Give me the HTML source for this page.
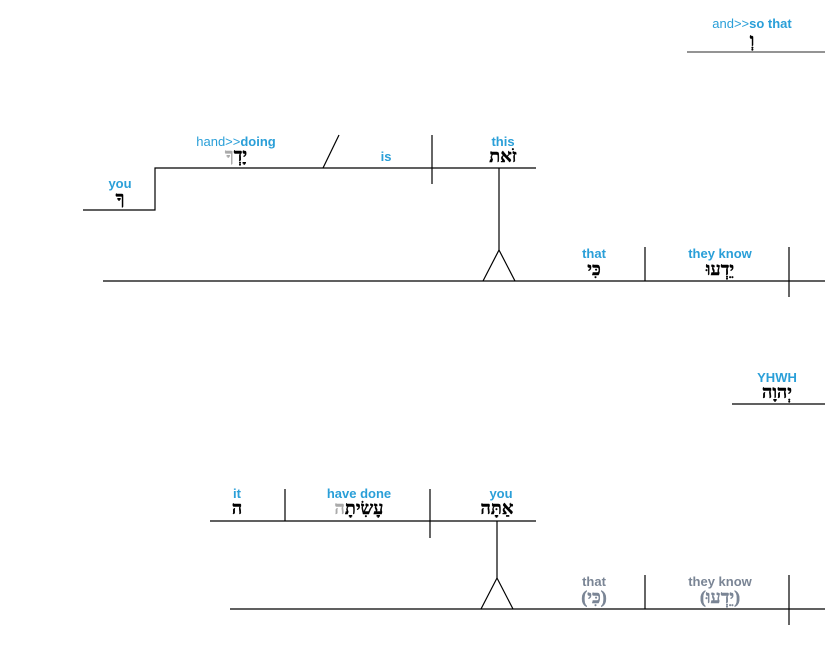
<!DOCTYPE html>
<html><head><meta charset="utf-8"><style>
html,body{margin:0;padding:0;background:#fff;}
svg{display:block;}
.b{fill:#2a9fd8;font-family:"Liberation Sans",sans-serif;font-size:13px;font-weight:bold;}
.bn{font-weight:normal;}
.g{fill:#7a8595;font-family:"Liberation Sans",sans-serif;font-size:13px;font-weight:bold;}
.h{fill:#000;font-family:"Liberation Serif","DejaVu Serif",serif;font-size:18px;font-weight:bold;stroke:#000;stroke-width:0.4;}
.hg{fill:#7a8595;stroke:#7a8595;}
.lg{fill:#aaa;stroke:#aaa;}
line,polyline{stroke:#000;stroke-width:1.2;fill:none;}
</style></head><body>
<svg width="825" height="649" viewBox="0 0 825 649" xmlns="http://www.w3.org/2000/svg">
<g text-anchor="middle">
<text class="b" x="752" y="28"><tspan class="bn">and&gt;&gt;</tspan>so that</text>
<text class="h" x="752" y="46">וְ</text>
<line x1="687" y1="52" x2="825" y2="52" style="stroke:#555"/>

<text class="b" x="236" y="146"><tspan class="bn">hand&gt;&gt;</tspan>doing</text>
<text class="h" x="236" y="161">יָדְ<tspan class="lg">ךָ</tspan></text>
<text class="b" x="120" y="188">you</text>
<text class="h" x="120" y="204">ךָ</text>
<text class="b" x="386" y="161">is</text>
<text class="b" x="503" y="146">this</text>
<text class="h" x="503" y="162">זֹאת</text>
<polyline points="83,210 155,210 155,168 536,168"/>
<line x1="323" y1="168" x2="339" y2="135"/>
<line x1="432" y1="135" x2="432" y2="184"/>
<line x1="499" y1="168" x2="499" y2="250"/>
<polyline points="483,281 499,250 515,281"/>
<line x1="103" y1="281" x2="825" y2="281"/>
<line x1="645" y1="247" x2="645" y2="281"/>
<line x1="789" y1="247" x2="789" y2="297"/>
<text class="b" x="594" y="258">that</text>
<text class="h" x="594" y="275">כִּי</text>
<text class="b" x="720" y="258">they know</text>
<text class="h" x="720" y="275">יֵדְעוּ</text>

<text class="b" x="777" y="382">YHWH</text>
<text class="h" x="777" y="398">יְהוָה</text>
<line x1="732" y1="404" x2="825" y2="404"/>

<text class="b" x="237" y="498">it</text>
<text class="h" x="237" y="514">ה</text>
<text class="b" x="359" y="498">have done</text>
<text class="h" x="359" y="514">עָשִׂיתָ<tspan class="lg">ה</tspan></text>
<text class="b" x="501" y="498">you</text>
<text class="h" x="497" y="514">אַתָּה</text>
<line x1="210" y1="521" x2="536" y2="521"/>
<line x1="285" y1="489" x2="285" y2="521"/>
<line x1="430" y1="489" x2="430" y2="538"/>
<line x1="497" y1="521" x2="497" y2="578"/>
<polyline points="481,609 497,578 513,609"/>
<line x1="230" y1="609" x2="825" y2="609"/>
<line x1="645" y1="575" x2="645" y2="609"/>
<line x1="789" y1="575" x2="789" y2="625"/>
<text class="g" x="594" y="586">that</text>
<text class="h hg" x="594" y="603">(כִּי)</text>
<text class="g" x="720" y="586">they know</text>
<text class="h hg" x="720" y="603">(יֵדְעוּ)</text>
</g>
</svg>
</body></html>
